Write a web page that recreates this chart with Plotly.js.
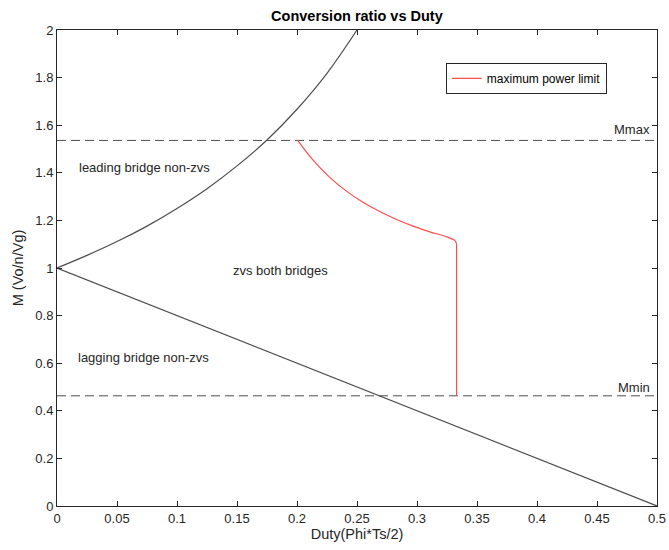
<!DOCTYPE html>
<html><head><meta charset="utf-8">
<script src="https://cdn.plot.ly/plotly-3.0.1.min.js"></script>
<style>html,body{margin:0;padding:0;background:#fff}</style>
</head><body><div id="chart" style="width:669px;height:550px"></div>
<script>
// Upper boundary (leading bridge zvs limit)
const upperD = [0, 0.025, 0.05, 0.075, 0.1, 0.125, 0.15, 0.175, 0.2, 0.225, 0.25];
const upperM = [1, 1.053, 1.111, 1.176, 1.25, 1.333, 1.429, 1.538, 1.667, 1.818, 2.0];
// Lower boundary (lagging bridge zvs limit)
const lowerD = [0, 0.25, 0.5];
const lowerM = [1, 0.5, 0];
// Maximum power limit curve
const redCurveD = [0.2006, 0.2134, 0.2273, 0.2412, 0.255, 0.269, 0.2829, 0.2968, 0.3107, 0.3246, 0.3315, 0.333];
const redCurveM = [1.536, 1.453, 1.381, 1.323, 1.276, 1.237, 1.204, 1.176, 1.152, 1.131, 1.116, 1.100];
const redDropD = [0.333, 0.333];
const redDropM = [1.100, 0.463];
// Limits
const limD = [0, 0.5];
const Mmax = 1.536;
const Mmin = 0.463;
const xTicks = [0, 0.05, 0.1, 0.15, 0.2, 0.25, 0.3, 0.35, 0.4, 0.45, 0.5];
const yTicks = [0, 0.2, 0.4, 0.6, 0.8, 1, 1.2, 1.4, 1.6, 1.8, 2];

const FAM = 'Liberation Sans, Arial, sans-serif';
const font = {family: FAM, size: 13, color: '#262626'};
const traces = [
  {x: upperD, y: upperM, mode: 'lines', line: {color: '#4d4d4d', width: 1.2, shape: 'spline'}, showlegend: false, hoverinfo: 'skip'},
  {x: lowerD, y: lowerM, mode: 'lines', line: {color: '#4d4d4d', width: 1.2}, showlegend: false, hoverinfo: 'skip'},
  {x: limD, y: [Mmax, Mmax], mode: 'lines', line: {color: '#4d4d4d', width: 1, dash: '9px,5px'}, showlegend: false, hoverinfo: 'skip'},
  {x: limD, y: [Mmin, Mmin], mode: 'lines', line: {color: '#4d4d4d', width: 1, dash: '9px,5px'}, showlegend: false, hoverinfo: 'skip'},
  {x: redCurveD, y: redCurveM, mode: 'lines', name: 'maximum power limit', legendgroup: 'r', line: {color: '#ff4d4d', width: 1.2, shape: 'spline'}},
  {x: redDropD, y: redDropM, mode: 'lines', showlegend: false, legendgroup: 'r', line: {color: '#ff4d4d', width: 1.2}, hoverinfo: 'skip'}
];
const axisCommon = {showline: true, mirror: 'ticks', linecolor: '#262626', linewidth: 1, ticks: 'inside', ticklen: 5, tickcolor: '#262626', showgrid: false, zeroline: false, tickfont: font};
const layout = {
  width: 669, height: 550,
  margin: {l: 57, r: 12, t: 30, b: 44},
  paper_bgcolor: '#fff', plot_bgcolor: '#fff',
  font: font,
  title: {text: '<b>Conversion ratio vs Duty</b>', font: {family: FAM, size: 14.5, color: '#000'}, x: 0.5335, xanchor: 'center', y: 0.971, yanchor: 'middle'},
  xaxis: Object.assign({}, axisCommon, {range: [0, 0.5], tickvals: xTicks, ticktext: xTicks.map(String),
    title: {text: 'Duty(Phi*Ts/2)', font: {family: FAM, size: 14.5, color: '#262626'}, standoff: 4}}),
  yaxis: Object.assign({}, axisCommon, {range: [0, 2], tickvals: yTicks, ticktext: yTicks.map(String),
    title: {text: 'M (Vo/n/Vg)', font: {family: FAM, size: 14.5, color: '#262626'}, standoff: 8}}),
  legend: {x: 0.648, y: 0.931, xanchor: 'left', yanchor: 'top', bordercolor: '#262626', borderwidth: 1, bgcolor: '#fff',
    font: {family: FAM, size: 12, color: '#000'}, tracegroupgap: 0, itemwidth: 30},
  annotations: [
    {x: 0.017, y: 1.423, xref: 'x', yref: 'y', text: 'leading bridge non-zvs', showarrow: false, xanchor: 'left', font: font},
    {x: 0.145, y: 0.99, xref: 'x', yref: 'y', text: 'zvs both bridges', showarrow: false, xanchor: 'left', font: font},
    {x: 0.016, y: 0.625, xref: 'x', yref: 'y', text: 'lagging bridge non-zvs', showarrow: false, xanchor: 'left', font: font},
    {x: 0.496, y: 1.582, xref: 'x', yref: 'y', text: 'Mmax', showarrow: false, xanchor: 'right', font: font},
    {x: 0.496, y: 0.5, xref: 'x', yref: 'y', text: 'Mmin', showarrow: false, xanchor: 'right', font: font}
  ]
};
Plotly.newPlot('chart', traces, layout, {displayModeBar: false, staticPlot: true});
</script></body></html>
